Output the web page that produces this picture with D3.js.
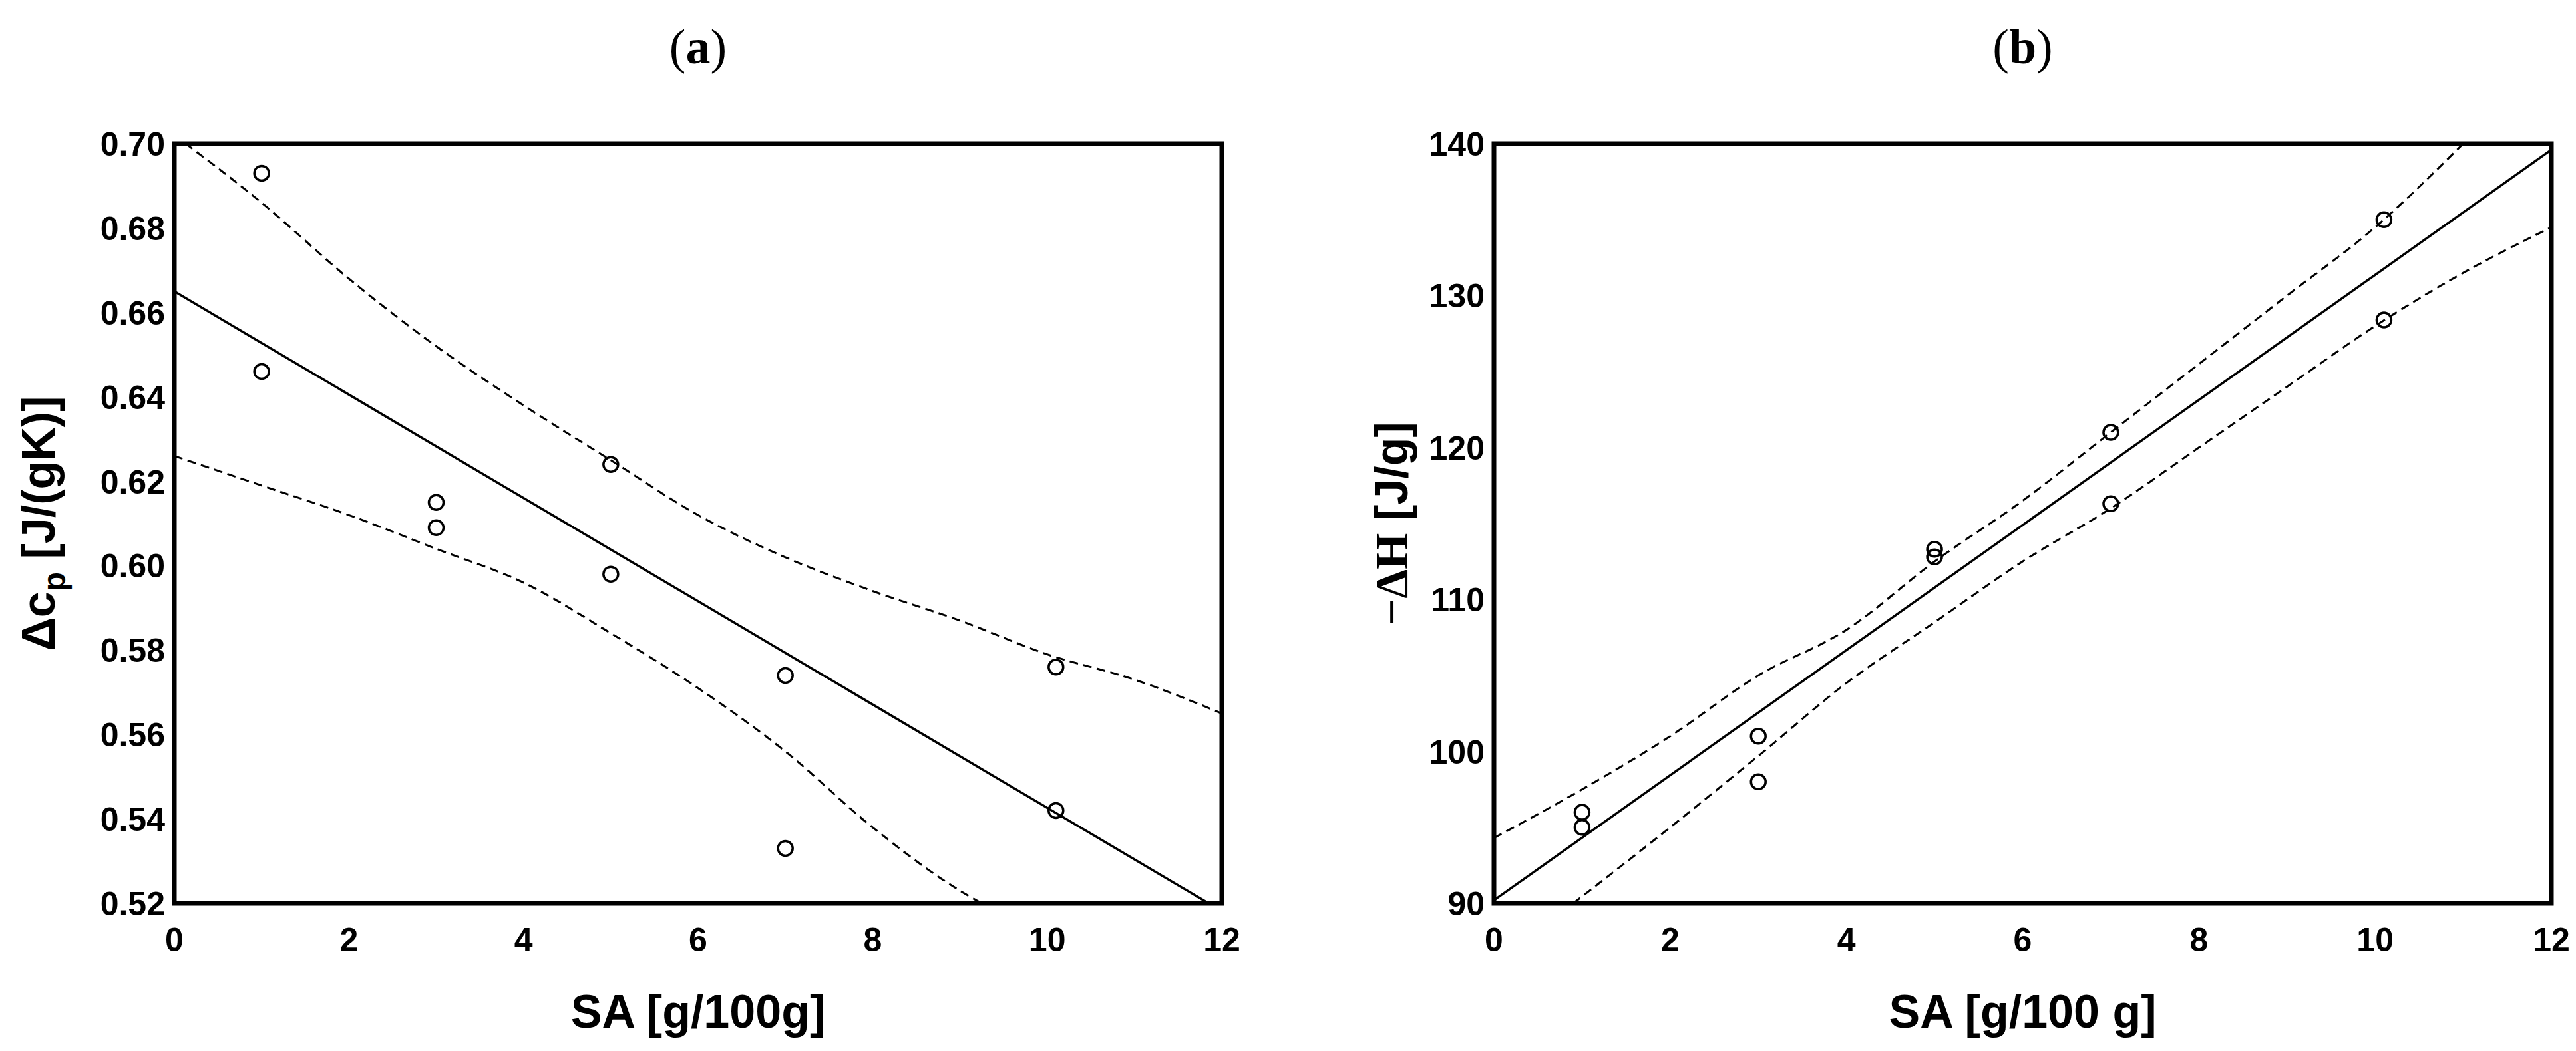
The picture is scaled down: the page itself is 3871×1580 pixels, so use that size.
<!DOCTYPE html><html><head><meta charset="utf-8"><script src="https://cdn.jsdelivr.net/npm/d3@7"></script>
<style>body{margin:0;background:#fff}</style></head><body><svg id="c" width="3871" height="1580"></svg><script>
const aPtsX=[1,1,3,3,5,5,7,7,10.1,10.1];
const aPtsY=[0.693,0.646,0.615,0.609,0.624,0.598,0.574,0.533,0.576,0.542];
const aFitX=[0,11.85], aFitY=[0.665,0.52];
const aUpX=[0,1,2,3,4,5,6,7,8,9,10,11,12];
const aUpY=[0.702,0.686,0.668,0.652,0.638,0.625,0.612,0.602,0.594,0.587,0.579,0.573,0.565];
const aLoX=[0,1,2,3,4,5,6,7,8,9,9.25];
const aLoY=[0.626,0.619,0.612,0.604,0.596,0.584,0.571,0.556,0.538,0.523,0.52];
const aTicksY=[0.52,0.54,0.56,0.58,0.60,0.62,0.64,0.66,0.68,0.70];
const bPtsX=[1,1,3,3,5,5,7,7,10.1,10.1];
const bPtsY=[96,95,101,98,113.3,112.8,121,116.3,135,128.4];
const bFitX=[0,12], bFitY=[90.2,139.6];
const bUpX=[0,1,2,3,4,5,6,7,8,9,10,11];
const bUpY=[94.3,97.5,101,105,108,112.5,116.5,121,125.5,130,134.5,140];
const bLoX=[0.9,2,3,4,5,6,7,8,9,10,11,12];
const bLoY=[90,95,99.7,104.5,108.5,112.5,116,120,124,128,131.5,134.5];
const bTicksY=[90,100,110,120,130,140];
const xTicks=[0,2,4,6,8,10,12];
const svg=d3.select("#c");
function panel(o){
  const x=d3.scaleLinear().domain([0,12]).range([o.x0,o.x1]);
  const y=d3.scaleLinear().domain(o.yd).range([o.y1,o.y0]);
  const g=svg.append("g");
  const defs=svg.append("defs"); const cid="clip"+o.id;
  defs.append("clipPath").attr("id",cid).append("rect").attr("x",o.x0).attr("y",o.y0).attr("width",o.x1-o.x0).attr("height",o.y1-o.y0);
  const pg=g.append("g").attr("clip-path",`url(#${cid})`);
  const line=d3.line().x(d=>x(d[0])).y(d=>y(d[1]));
  const z=(a,b)=>a.map((v,i)=>[v,b[i]]);
  pg.append("path").attr("d",line(z(o.fx,o.fy))).attr("fill","none").attr("stroke","#000").attr("stroke-width",3.5);
  [[o.ux,o.uy],[o.lx,o.ly]].forEach(([a,b])=>pg.append("path").attr("d",d3.line().curve(d3.curveMonotoneX).x(d=>x(d[0])).y(d=>y(d[1]))(z(a,b))).attr("fill","none").attr("stroke","#000").attr("stroke-width",3).attr("stroke-dasharray","13,8"));
  pg.selectAll("circle").data(z(o.px,o.py)).join("circle").attr("cx",d=>x(d[0])).attr("cy",d=>y(d[1])).attr("r",11).attr("fill","none").attr("stroke","#000").attr("stroke-width",3.5);
  g.append("rect").attr("x",o.x0).attr("y",o.y0).attr("width",o.x1-o.x0).attr("height",o.y1-o.y0).attr("fill","none").attr("stroke","#000").attr("stroke-width",7);
  const tf="Liberation Sans, Arial, sans-serif";
  g.selectAll(".xt").data(xTicks).join("text").attr("x",d=>x(d)).attr("y",o.y1+72).attr("text-anchor","middle").attr("font-family",tf).attr("font-weight","bold").attr("font-size",50).text(d=>d);
  g.selectAll(".yt").data(o.yt).join("text").attr("x",o.x0-14).attr("y",d=>y(d)+18).attr("text-anchor","end").attr("font-family",tf).attr("font-weight","bold").attr("font-size",50).text(d=>o.fmt(d));
  g.append("text").attr("x",(o.x0+o.x1)/2).attr("y",1545).attr("text-anchor","middle").attr("font-family",tf).attr("font-weight","bold").attr("font-size",70).text(o.xl);
  g.append("text").attr("x",(o.x0+o.x1)/2).attr("y",95).attr("text-anchor","middle").attr("font-family","Liberation Serif, serif").attr("font-size",74).html(o.title);
  const yl=g.append("text").attr("transform",`translate(${o.ylx},${(o.y0+o.y1)/2}) rotate(-90)`).attr("text-anchor","middle").attr("font-family",tf).attr("font-weight","bold").attr("font-size",70);
  o.yl(yl);
}
panel({id:"a",x0:262,x1:1836,y0:216,y1:1358,yd:[0.52,0.70],yt:aTicksY,fmt:d3.format(".2f"),px:aPtsX,py:aPtsY,fx:aFitX,fy:aFitY,ux:aUpX,uy:aUpY,lx:aLoX,ly:aLoY,xl:"SA [g/100g]",title:"(<tspan font-weight='bold'>a</tspan>)",ylx:82,
 yl:t=>{t.append("tspan").text("Δc");t.append("tspan").attr("font-size",48).attr("dy",16).text("p");t.append("tspan").attr("dy",-16).text(" [J/(gK)]");}});
panel({id:"b",x0:2245,x1:3834,y0:216,y1:1358,yd:[90,140],yt:bTicksY,fmt:d=>d,px:bPtsX,py:bPtsY,fx:bFitX,fy:bFitY,ux:bUpX,uy:bUpY,lx:bLoX,ly:bLoY,xl:"SA [g/100 g]",title:"(<tspan font-weight='bold'>b</tspan>)",ylx:2115,
 yl:t=>{t.append("tspan").attr("font-family","Liberation Serif, serif").text("−ΔH");t.append("tspan").text(" [J/g]");}});
</script></body></html>
